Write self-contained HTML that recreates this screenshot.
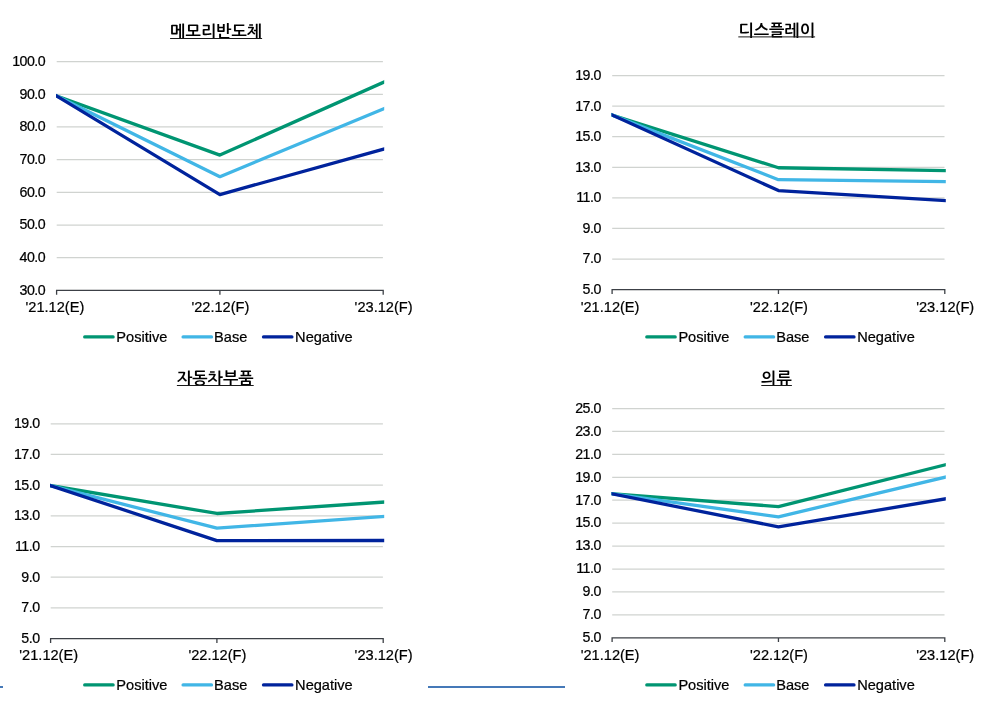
<!DOCTYPE html><html><head><meta charset="utf-8"><title>charts</title><style>
html,body{margin:0;padding:0;background:#fff;overflow:hidden}svg{display:block}text{font-family:"Liberation Sans","NanumGothic",sans-serif;fill:#000}.t{font-family:"Liberation Sans","NanumGothic","Noto Sans CJK KR",sans-serif;font-size:16.32px;font-weight:bold;text-anchor:middle}.y{text-anchor:end;font-size:14.2px;letter-spacing:-0.5px}.x{text-anchor:middle;font-size:14.6px}.g{font-size:14.6px}.x,.y,.g{stroke:#000;stroke-width:0.22px}.l{fill:none;stroke-width:3.3;stroke-linejoin:round}
</style></head><body>
<svg width="981" height="704" viewBox="0 0 981 704">
<rect width="981" height="704" fill="#fff"/>
<g>
<text class="t" x="216.1" y="37.1">메모리반도체</text>
<line x1="170.1" x2="262.1" y1="38.5" y2="38.5" stroke="#1a1a1a" stroke-width="1"/>
<line x1="56.7" x2="382.9" y1="257.71" y2="257.71" stroke="#d0d3d0" stroke-width="1.25"/>
<line x1="56.7" x2="382.9" y1="225.03" y2="225.03" stroke="#d0d3d0" stroke-width="1.25"/>
<line x1="56.7" x2="382.9" y1="192.34" y2="192.34" stroke="#d0d3d0" stroke-width="1.25"/>
<line x1="56.7" x2="382.9" y1="159.66" y2="159.66" stroke="#d0d3d0" stroke-width="1.25"/>
<line x1="56.7" x2="382.9" y1="126.97" y2="126.97" stroke="#d0d3d0" stroke-width="1.25"/>
<line x1="56.7" x2="382.9" y1="94.29" y2="94.29" stroke="#d0d3d0" stroke-width="1.25"/>
<line x1="56.7" x2="382.9" y1="61.60" y2="61.60" stroke="#d0d3d0" stroke-width="1.25"/>
<text class="y" x="45.15" y="294.7">30.0</text>
<text class="y" x="45.15" y="262.0">40.0</text>
<text class="y" x="45.15" y="229.3">50.0</text>
<text class="y" x="45.15" y="196.6">60.0</text>
<text class="y" x="45.15" y="164.0">70.0</text>
<text class="y" x="45.15" y="131.3">80.0</text>
<text class="y" x="45.15" y="98.6">90.0</text>
<text class="y" x="45.15" y="65.9">100.0</text>
<path d="M56.6 294.7V290.4H383.2V294.7M219.9 290.4V294.7" fill="none" stroke="#3c4046" stroke-width="1.3" stroke-linejoin="miter"/>
<text class="x" x="54.9" y="311.7">'21.12(E)</text>
<text class="x" x="220.4" y="311.7">'22.12(F)</text>
<text class="x" x="383.6" y="311.7">'23.12(F)</text>
<clipPath id="c0"><rect x="56.0" y="31.6" width="328.2" height="288.8"/></clipPath>
<g clip-path="url(#c0)">
<polyline class="l" stroke="#009572" points="52.60,94.47 219.90,155.08 387.20,80.67"/>
<polyline class="l" stroke="#41b6e6" points="52.60,93.94 219.90,176.65 387.20,107.34"/>
<polyline class="l" stroke="#00239c" points="52.60,93.50 219.90,194.63 387.20,148.08"/>
</g>
<line x1="84.7" x2="113.1" y1="336.9" y2="336.9" stroke="#009572" stroke-width="3.3" stroke-linecap="round"/>
<text class="g" x="116.3" y="341.9">Positive</text>
<line x1="183.1" x2="211.5" y1="336.9" y2="336.9" stroke="#41b6e6" stroke-width="3.3" stroke-linecap="round"/>
<text class="g" x="214.1" y="341.9">Base</text>
<line x1="263.5" x2="291.9" y1="336.9" y2="336.9" stroke="#00239c" stroke-width="3.3" stroke-linecap="round"/>
<text class="g" x="295.1" y="341.9">Negative</text>
</g>
<g>
<text class="t" x="776.7" y="35.5">디스플레이</text>
<line x1="738.3" x2="815.1" y1="36.9" y2="36.9" stroke="#1a1a1a" stroke-width="1"/>
<line x1="612.2" x2="944.5" y1="259.03" y2="259.03" stroke="#d0d3d0" stroke-width="1.25"/>
<line x1="612.2" x2="944.5" y1="228.46" y2="228.46" stroke="#d0d3d0" stroke-width="1.25"/>
<line x1="612.2" x2="944.5" y1="197.89" y2="197.89" stroke="#d0d3d0" stroke-width="1.25"/>
<line x1="612.2" x2="944.5" y1="167.31" y2="167.31" stroke="#d0d3d0" stroke-width="1.25"/>
<line x1="612.2" x2="944.5" y1="136.74" y2="136.74" stroke="#d0d3d0" stroke-width="1.25"/>
<line x1="612.2" x2="944.5" y1="106.17" y2="106.17" stroke="#d0d3d0" stroke-width="1.25"/>
<line x1="612.2" x2="944.5" y1="75.60" y2="75.60" stroke="#d0d3d0" stroke-width="1.25"/>
<text class="y" x="600.8" y="293.9">5.0</text>
<text class="y" x="600.8" y="263.3">7.0</text>
<text class="y" x="600.8" y="232.8">9.0</text>
<text class="y" x="600.8" y="202.2">11.0</text>
<text class="y" x="600.8" y="171.6">13.0</text>
<text class="y" x="600.8" y="141.0">15.0</text>
<text class="y" x="600.8" y="110.5">17.0</text>
<text class="y" x="600.8" y="79.9">19.0</text>
<path d="M612.1 293.90000000000003V289.6H944.8V293.90000000000003M778.45 289.6V293.90000000000003" fill="none" stroke="#3c4046" stroke-width="1.3" stroke-linejoin="miter"/>
<text class="x" x="610.1" y="311.8">'21.12(E)</text>
<text class="x" x="779.0" y="311.8">'22.12(F)</text>
<text class="x" x="945.2" y="311.8">'23.12(F)</text>
<clipPath id="c1"><rect x="611.5" y="45.6" width="334.3" height="274.0"/></clipPath>
<g clip-path="url(#c1)">
<polyline class="l" stroke="#009572" points="608.10,113.77 778.45,167.77 948.80,170.59"/>
<polyline class="l" stroke="#41b6e6" points="608.10,113.48 778.45,179.70 948.80,181.73"/>
<polyline class="l" stroke="#00239c" points="608.10,113.22 778.45,190.55 948.80,200.88"/>
</g>
<line x1="646.8" x2="675.2" y1="336.9" y2="336.9" stroke="#009572" stroke-width="3.3" stroke-linecap="round"/>
<text class="g" x="678.4" y="341.9">Positive</text>
<line x1="745.2" x2="773.6" y1="336.9" y2="336.9" stroke="#41b6e6" stroke-width="3.3" stroke-linecap="round"/>
<text class="g" x="776.2" y="341.9">Base</text>
<line x1="825.6" x2="854.0" y1="336.9" y2="336.9" stroke="#00239c" stroke-width="3.3" stroke-linecap="round"/>
<text class="g" x="857.2" y="341.9">Negative</text>
</g>
<g>
<text class="t" x="215.3" y="384.1">자동차부품</text>
<line x1="176.9" x2="253.7" y1="385.5" y2="385.5" stroke="#1a1a1a" stroke-width="1"/>
<line x1="50.7" x2="382.9" y1="607.91" y2="607.91" stroke="#d0d3d0" stroke-width="1.25"/>
<line x1="50.7" x2="382.9" y1="577.23" y2="577.23" stroke="#d0d3d0" stroke-width="1.25"/>
<line x1="50.7" x2="382.9" y1="546.54" y2="546.54" stroke="#d0d3d0" stroke-width="1.25"/>
<line x1="50.7" x2="382.9" y1="515.86" y2="515.86" stroke="#d0d3d0" stroke-width="1.25"/>
<line x1="50.7" x2="382.9" y1="485.17" y2="485.17" stroke="#d0d3d0" stroke-width="1.25"/>
<line x1="50.7" x2="382.9" y1="454.49" y2="454.49" stroke="#d0d3d0" stroke-width="1.25"/>
<line x1="50.7" x2="382.9" y1="423.80" y2="423.80" stroke="#d0d3d0" stroke-width="1.25"/>
<text class="y" x="39.6" y="642.9">5.0</text>
<text class="y" x="39.6" y="612.2">7.0</text>
<text class="y" x="39.6" y="581.5">9.0</text>
<text class="y" x="39.6" y="550.8">11.0</text>
<text class="y" x="39.6" y="520.2">13.0</text>
<text class="y" x="39.6" y="489.5">15.0</text>
<text class="y" x="39.6" y="458.8">17.0</text>
<text class="y" x="39.6" y="428.1">19.0</text>
<path d="M50.6 642.9V638.6H383.2V642.9M216.9 638.6V642.9" fill="none" stroke="#3c4046" stroke-width="1.3" stroke-linejoin="miter"/>
<text class="x" x="48.7" y="659.8">'21.12(E)</text>
<text class="x" x="217.4" y="659.8">'22.12(F)</text>
<text class="x" x="383.6" y="659.8">'23.12(F)</text>
<clipPath id="c2"><rect x="50.0" y="393.8" width="334.2" height="274.8"/></clipPath>
<g clip-path="url(#c2)">
<polyline class="l" stroke="#009572" points="46.60,484.96 216.90,513.48 387.20,501.85"/>
<polyline class="l" stroke="#41b6e6" points="46.60,484.61 216.90,528.21 387.20,516.27"/>
<polyline class="l" stroke="#00239c" points="46.60,484.31 216.90,540.64 387.20,540.48"/>
</g>
<line x1="84.7" x2="113.1" y1="684.9" y2="684.9" stroke="#009572" stroke-width="3.3" stroke-linecap="round"/>
<text class="g" x="116.3" y="689.9">Positive</text>
<line x1="183.1" x2="211.5" y1="684.9" y2="684.9" stroke="#41b6e6" stroke-width="3.3" stroke-linecap="round"/>
<text class="g" x="214.1" y="689.9">Base</text>
<line x1="263.5" x2="291.9" y1="684.9" y2="684.9" stroke="#00239c" stroke-width="3.3" stroke-linecap="round"/>
<text class="g" x="295.1" y="689.9">Negative</text>
</g>
<g>
<text class="t" x="776.6" y="384.1">의류</text>
<line x1="761.3" x2="791.9" y1="385.5" y2="385.5" stroke="#1a1a1a" stroke-width="1"/>
<line x1="612.2" x2="944.5" y1="614.87" y2="614.87" stroke="#d0d3d0" stroke-width="1.25"/>
<line x1="612.2" x2="944.5" y1="591.94" y2="591.94" stroke="#d0d3d0" stroke-width="1.25"/>
<line x1="612.2" x2="944.5" y1="569.01" y2="569.01" stroke="#d0d3d0" stroke-width="1.25"/>
<line x1="612.2" x2="944.5" y1="546.08" y2="546.08" stroke="#d0d3d0" stroke-width="1.25"/>
<line x1="612.2" x2="944.5" y1="523.15" y2="523.15" stroke="#d0d3d0" stroke-width="1.25"/>
<line x1="612.2" x2="944.5" y1="500.22" y2="500.22" stroke="#d0d3d0" stroke-width="1.25"/>
<line x1="612.2" x2="944.5" y1="477.29" y2="477.29" stroke="#d0d3d0" stroke-width="1.25"/>
<line x1="612.2" x2="944.5" y1="454.36" y2="454.36" stroke="#d0d3d0" stroke-width="1.25"/>
<line x1="612.2" x2="944.5" y1="431.43" y2="431.43" stroke="#d0d3d0" stroke-width="1.25"/>
<line x1="612.2" x2="944.5" y1="408.50" y2="408.50" stroke="#d0d3d0" stroke-width="1.25"/>
<text class="y" x="600.8" y="642.1">5.0</text>
<text class="y" x="600.8" y="619.2">7.0</text>
<text class="y" x="600.8" y="596.2">9.0</text>
<text class="y" x="600.8" y="573.3">11.0</text>
<text class="y" x="600.8" y="550.4">13.0</text>
<text class="y" x="600.8" y="527.4">15.0</text>
<text class="y" x="600.8" y="504.5">17.0</text>
<text class="y" x="600.8" y="481.6">19.0</text>
<text class="y" x="600.8" y="458.7">21.0</text>
<text class="y" x="600.8" y="435.7">23.0</text>
<text class="y" x="600.8" y="412.8">25.0</text>
<path d="M612.1 642.0999999999999V637.8H944.8V642.0999999999999M778.45 637.8V642.0999999999999" fill="none" stroke="#3c4046" stroke-width="1.3" stroke-linejoin="miter"/>
<text class="x" x="610.1" y="659.8">'21.12(E)</text>
<text class="x" x="779.0" y="659.8">'22.12(F)</text>
<text class="x" x="945.2" y="659.8">'23.12(F)</text>
<clipPath id="c3"><rect x="611.5" y="378.5" width="334.3" height="289.3"/></clipPath>
<g clip-path="url(#c3)">
<polyline class="l" stroke="#009572" points="608.10,493.49 778.45,506.64 948.80,463.90"/>
<polyline class="l" stroke="#41b6e6" points="608.10,493.25 778.45,516.84 948.80,476.34"/>
<polyline class="l" stroke="#00239c" points="608.10,493.00 778.45,526.93 948.80,498.29"/>
</g>
<line x1="646.8" x2="675.2" y1="684.9" y2="684.9" stroke="#009572" stroke-width="3.3" stroke-linecap="round"/>
<text class="g" x="678.4" y="689.9">Positive</text>
<line x1="745.2" x2="773.6" y1="684.9" y2="684.9" stroke="#41b6e6" stroke-width="3.3" stroke-linecap="round"/>
<text class="g" x="776.2" y="689.9">Base</text>
<line x1="825.6" x2="854.0" y1="684.9" y2="684.9" stroke="#00239c" stroke-width="3.3" stroke-linecap="round"/>
<text class="g" x="857.2" y="689.9">Negative</text>
</g>
<line x1="428" x2="565" y1="687" y2="687" stroke="#4579b8" stroke-width="2"/>
<line x1="0" x2="3" y1="687" y2="687" stroke="#4579b8" stroke-width="2"/>
</svg></body></html>
